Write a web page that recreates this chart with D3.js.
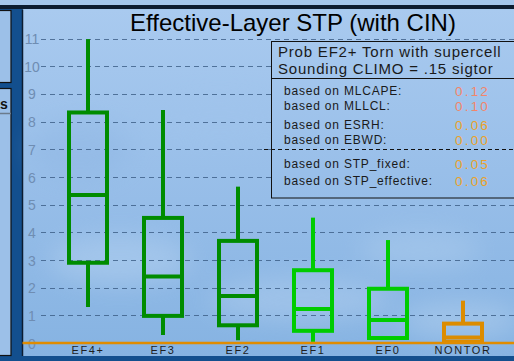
<!DOCTYPE html>
<html><head><meta charset="utf-8">
<script src="https://cdn.jsdelivr.net/npm/d3@7/dist/d3.min.js"></script>
<style>html,body{margin:0;padding:0;background:#a4c6ec;overflow:hidden}svg{display:block}</style>
</head><body>
<svg id="chart" width="514" height="361"></svg>
<script>
// ---- data ----
const categories = ["EF4+", "EF3", "EF2", "EF1", "EF0", "NONTOR"];
const whiskerLow  = [1.30, 0.29, 0.10, 0.04, 0.18, 0.04];
const q1          = [2.90, 0.98, 0.64, 0.44, 0.18, 0.04];
const median      = [5.35, 2.40, 1.70, 1.23, 0.83, 0.20];
const q3          = [8.33, 4.52, 3.69, 2.63, 1.96, 0.70];
const whiskerHigh = [10.98, 8.42, 5.65, 4.53, 3.72, 1.53];
const boxColors   = ["#008c00", "#008c00", "#008c00", "#00cc00", "#00cc00", "#dc8c00"];
const yTicks = [0,1,2,3,4,5,6,7,8,9,10,11];
const title = "Effective-Layer STP (with CIN)";
const legendHeader = ["Prob EF2+ Torn with supercell", "Sounding CLIMO = .15 sigtor"];
const legendLabels = ["based on MLCAPE:", "based on MLLCL:", "based on ESRH:", "based on EBWD:", "based on STP_fixed:", "based on STP_effective:"];
const legendValues = ["0.12", "0.10", "0.06", "0.00", "0.05", "0.06"];
const legendValueColors = ["#f2866a", "#f2866a", "#eaa22a", "#eaa22a", "#eaa22a", "#eaa22a"];

const svg = d3.select("#chart");
const W = 514, H = 361;
const defs = svg.append("defs");
const g1 = defs.append("linearGradient").attr("id","bg").attr("gradientUnits","userSpaceOnUse")
  .attr("x1",0).attr("y1",9).attr("x2",0).attr("y2",356);
g1.append("stop").attr("offset","0%").attr("stop-color","#a9caef");
g1.append("stop").attr("offset","55%").attr("stop-color","#96bde8");
g1.append("stop").attr("offset","100%").attr("stop-color","#86b3e2");
const blur = defs.append("filter").attr("id","blur").attr("x","-50%").attr("y","-50%").attr("width","200%").attr("height","200%");
blur.append("feGaussianBlur").attr("stdDeviation", 12);

// page frame
svg.append("rect").attr("x",0).attr("y",0).attr("width",W).attr("height",H).attr("fill","#a4c6ec");
svg.append("rect").attr("x",0).attr("y",5).attr("width",W).attr("height",4).attr("fill","#0c1c30");
svg.append("rect").attr("x",0).attr("y",9).attr("width",23).attr("height",H-9).attr("fill","#134f8e");
svg.append("rect").attr("x",0).attr("y",356).attr("width",W).attr("height",5).attr("fill","#134f8e");
// left panels (cropped)
svg.append("rect").attr("x",-5).attr("y",10.5).attr("width",16).attr("height",72).attr("fill","#9cc0e8").attr("stroke","#111").attr("stroke-width",1.2);
svg.append("rect").attr("x",-5).attr("y",88.5).attr("width",16).attr("height",267).attr("fill","#9cc0e8").attr("stroke","#111").attr("stroke-width",1.2);
svg.append("line").attr("x1",0).attr("x2",11).attr("y1",113.5).attr("y2",113.5).attr("stroke","#6b7b8c").attr("stroke-width",1.5);
svg.append("text").attr("x",0).attr("y",109).attr("font-family","Liberation Sans, Arial, sans-serif").attr("font-weight","bold").attr("font-size",14).attr("fill","#111").text("s");

// plot area
const px0 = 22.5, py0 = 9.5;
svg.append("rect").attr("x",px0).attr("y",py0).attr("width",W-px0+2).attr("height",356-py0).attr("fill","url(#bg)");
const clouds = svg.append("g").attr("filter","url(#blur)").attr("opacity",0.35);
[[120,260,70,25,"#c4dcf4"],[300,300,90,22,"#c0d8f2"],[420,250,60,20,"#b8d4f0"],[80,150,50,30,"#8cb4e2"],[220,120,70,25,"#a0c4ec"],[460,320,60,18,"#c8def4"]].forEach(c=>{
  clouds.append("ellipse").attr("cx",c[0]).attr("cy",c[1]).attr("rx",c[2]).attr("ry",c[3]).attr("fill",c[4]);
});
svg.append("line").attr("x1",px0).attr("x2",px0).attr("y1",py0).attr("y2",356).attr("stroke","#0c1c30").attr("stroke-width",1.5);

// scales
const y = d3.scaleLinear().domain([0, 11]).range([343, 38.6]);
const x = d3.scaleBand().domain(categories).range([50.5, 500.5]).paddingInner(0).paddingOuter(0);
const cx = c => x(c) + x.bandwidth()/2;
const boxW = 38;

// gridlines
svg.append("g").selectAll("line").data(yTicks.filter(t=>t>0)).join("line")
  .attr("x1",41).attr("x2",W).attr("y1",d=>Math.round(y(d))+0.5).attr("y2",d=>Math.round(y(d))+0.5)
  .attr("stroke","#34557e").attr("stroke-opacity",0.75).attr("stroke-width",1).attr("stroke-dasharray","5,4");

// y axis labels
const yAxis = d3.axisLeft(y).tickValues(yTicks).tickSize(0).tickPadding(0).tickFormat(d3.format("d"));
const ya = svg.append("g").attr("transform","translate(38,0)").call(yAxis);
ya.select(".domain").remove();
ya.selectAll("text").attr("font-family","Liberation Sans, Arial, sans-serif").attr("font-size",14)
  .attr("fill","#6f8db2").attr("text-anchor","middle").attr("x",-6).attr("dy","0.36em");

// title
svg.append("text").attr("x",293).attr("y",30.5).attr("text-anchor","middle")
  .attr("font-family","Liberation Sans, Arial, sans-serif").attr("font-size",24).attr("fill","#000").text(title);

// legend box
const lg = svg.append("g");
lg.append("rect").attr("x",271.5).attr("y",41.5).attr("width",260).attr("height",156.5).attr("fill","url(#bg)").attr("stroke","#111").attr("stroke-width",1);
lg.append("line").attr("x1",271.5).attr("x2",W).attr("y1",78.5).attr("y2",78.5).attr("stroke","#111").attr("stroke-width",1);
lg.append("line").attr("x1",264).attr("x2",W).attr("y1",Math.round(y(7))+0.5).attr("y2",Math.round(y(7))+0.5).attr("stroke","#111").attr("stroke-width",1).attr("stroke-dasharray","4,3");
lg.selectAll("text.h").data(legendHeader).join("text").attr("class","h")
  .attr("x",278).attr("y",(d,i)=>57+i*16.5).attr("font-family","Liberation Sans, Arial, sans-serif")
  .attr("font-size",15).attr("letter-spacing",0.8).attr("fill","#1a1a1a").text(d=>d);
const rowY = [95, 110, 129, 144, 168, 185];
lg.selectAll("text.l").data(legendLabels).join("text").attr("class","l")
  .attr("x",284).attr("y",(d,i)=>rowY[i]).attr("font-family","Liberation Sans, Arial, sans-serif")
  .attr("font-size",12).attr("letter-spacing",0.8).attr("fill","#1a1a1a").text(d=>d);
lg.selectAll("text.v").data(legendValues).join("text").attr("class","v")
  .attr("x",455).attr("y",(d,i)=>rowY[i]+1).attr("font-family","Liberation Sans, Arial, sans-serif")
  .attr("font-size",13.5).attr("letter-spacing",2.2).attr("fill",(d,i)=>legendValueColors[i]).text(d=>d);

// boxes
const bx = svg.append("g");
categories.forEach((c,i)=>{
  const col = boxColors[i], xc = cx(c);
  bx.append("line").attr("x1",xc).attr("x2",xc).attr("y1",y(whiskerHigh[i])).attr("y2",y(q3[i])).attr("stroke",col).attr("stroke-width",4);
  bx.append("line").attr("x1",xc).attr("x2",xc).attr("y1",y(q1[i])).attr("y2",y(whiskerLow[i])).attr("stroke",col).attr("stroke-width",4);
  bx.append("rect").attr("x",xc-boxW/2).attr("y",y(q3[i])).attr("width",boxW).attr("height",y(q1[i])-y(q3[i]))
    .attr("fill","none").attr("stroke",col).attr("stroke-width",4);
  bx.append("line").attr("x1",xc-boxW/2).attr("x2",xc+boxW/2).attr("y1",y(median[i])).attr("y2",y(median[i])).attr("stroke",col).attr("stroke-width",4);
});

// baseline
svg.append("line").attr("x1",px0).attr("x2",W).attr("y1",y(0)).attr("y2",y(0)).attr("stroke","#e08c00").attr("stroke-width",2.5);

// x labels
const xAxis = d3.axisBottom(x).tickSize(0).tickPadding(0);
const xa = svg.append("g").attr("transform","translate(0,346)").call(xAxis);
xa.select(".domain").remove();
xa.selectAll("text").attr("font-family","Liberation Sans, Arial, sans-serif").attr("font-size",11)
  .attr("letter-spacing",1.6).attr("fill","#1e1e1e").attr("dy","0.71em");
</script>
</body></html>
